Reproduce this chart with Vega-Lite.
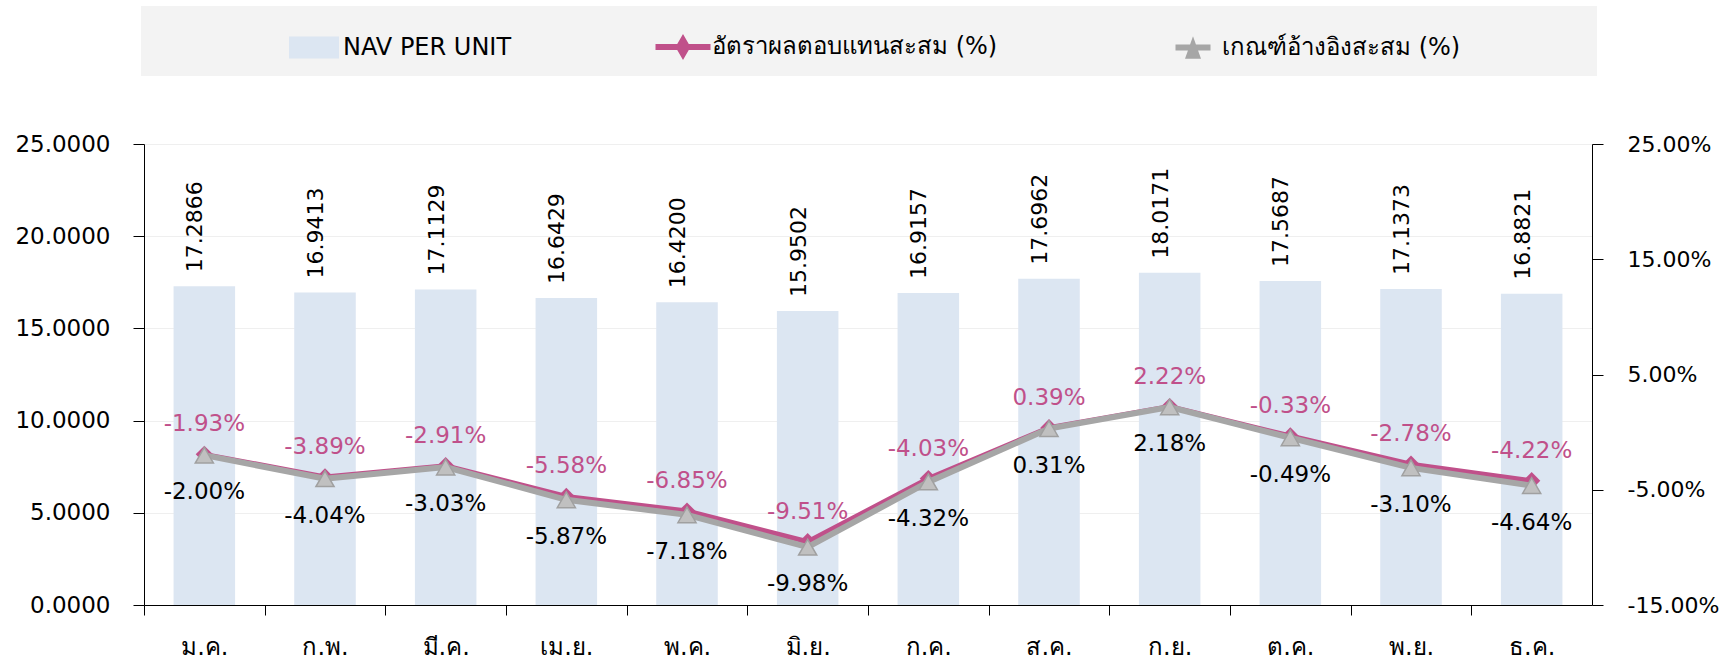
{
  "$schema": "https://vega.github.io/schema/vega-lite/v6.json",
  "width": 1448,
  "height": 461,
  "autosize": {"type": "none"},
  "padding": {"left": 144, "top": 144, "right": 135, "bottom": 57},
  "background": "white",
  "config": {
    "font": "DejaVu Sans",
    "view": {"stroke": null},
    "locale": {"number": {"decimal": ".", "thousands": ",", "grouping": [3], "currency": ["$", ""], "minus": "-"}}
  },
  "data": {
    "values": [
      {"month": "ม.ค.", "nav": 17.2866, "fund": -0.0193, "bench": -0.0200},
      {"month": "ก.พ.", "nav": 16.9413, "fund": -0.0389, "bench": -0.0404},
      {"month": "มี.ค.", "nav": 17.1129, "fund": -0.0291, "bench": -0.0303},
      {"month": "เม.ย.", "nav": 16.6429, "fund": -0.0558, "bench": -0.0587},
      {"month": "พ.ค.", "nav": 16.4200, "fund": -0.0685, "bench": -0.0718},
      {"month": "มิ.ย.", "nav": 15.9502, "fund": -0.0951, "bench": -0.0998},
      {"month": "ก.ค.", "nav": 16.9157, "fund": -0.0403, "bench": -0.0432},
      {"month": "ส.ค.", "nav": 17.6962, "fund": 0.0039, "bench": 0.0031},
      {"month": "ก.ย.", "nav": 18.0171, "fund": 0.0222, "bench": 0.0218},
      {"month": "ต.ค.", "nav": 17.5687, "fund": -0.0033, "bench": -0.0049},
      {"month": "พ.ย.", "nav": 17.1373, "fund": -0.0278, "bench": -0.0310},
      {"month": "ธ.ค.", "nav": 16.8821, "fund": -0.0422, "bench": -0.0464}
    ]
  },
  "encoding": {
    "x": {
      "field": "month",
      "type": "nominal",
      "sort": null,
      "scale": {"paddingInner": 0.49, "paddingOuter": 0.245},
      "axis": {
        "title": null,
        "labelAngle": 0,
        "tickOffset": -60.333,
        "labelOffset": 60.333,
        "tickSize": 10,
        "tickColor": "#000000",
        "domainColor": "#000000",
        "labelFontSize": 24,
        "labelColor": "#000000",
        "labelBaseline": "alphabetic",
        "labelPadding": 39
      }
    }
  },
  "layer": [
    {
      "encoding": {
        "y": {
          "field": "nav",
          "type": "quantitative",
          "scale": {"domain": [0, 25], "nice": false, "zero": false},
          "axis": {
            "orient": "left",
            "title": null,
            "values": [0, 5, 10, 15, 20, 25],
            "format": ".4f",
            "grid": true,
            "gridColor": "#efefef",
            "tickSize": 11,
            "tickColor": "#000000",
            "domainColor": "#000000",
            "labelFontSize": 23,
            "labelColor": "#000000",
            "labelPadding": 23
          }
        }
      },
      "layer": [
        {
          "mark": {"type": "bar", "color": "#dce6f2"},
          "encoding": {
            "color": {
              "datum": "NAV PER UNIT",
              "type": "nominal",
              "scale": {
                "domain": ["NAV PER UNIT", "อัตราผลตอบแทนสะสม (%)", "เกณฑ์อ้างอิงสะสม (%)"],
                "range": ["#dce6f2", "#c0508a", "#a6a6a6"]
              },
              "legend": {
                "orient": "none",
                "legendX": -3,
                "legendY": -138,
                "direction": "horizontal",
                "title": null,
                "fillColor": "#f3f3f3",
                "padding": 16,
                "symbolOffset": 132,
                "columnPadding": 14,
                "labelOffset": 4,
                "symbolSize": 2500,
                "labelFontSize": 24,
                "labelColor": "#000000",
                "labelLimit": 0,
                "encode": {
                  "labels": {
                    "update": {
                      "text": {"signal": "datum.value == 'NAV PER UNIT' ? datum.label : datum.value == 'อัตราผลตอบแทนสะสม (%)' ? datum.label + '\u2003\u200b' : datum.label + '\u2003\u2003\u2003\u2003\u2003\u200b'"}
                    }
                  },
                  "symbols": {
                    "update": {
                      "shape": {"signal": "datum.value == 'NAV PER UNIT' ? 'M-1,-0.44H1V0.44H-1Z' : datum.value == 'อัตราผลตอบแทนสะสม (%)' ? 'M-1.1,-0.12H1.1V0.12H-1.1Z M0,-0.52L0.3,0L0,0.52L-0.3,0Z' : 'M-0.7,-0.12H0.7V0.12H-0.7Z M0,-0.45L0.32,0.45H-0.32Z'"},
                      "fill": {"signal": "datum.value == 'NAV PER UNIT' ? '#dce6f2' : datum.value == 'อัตราผลตอบแทนสะสม (%)' ? '#c0508a' : '#a6a6a6'"},
                      "stroke": {"value": "transparent"},
                      "strokeWidth": {"value": 0},
                      "opacity": {"value": 1}
                    }
                  }
                }
              }
            }
          }
        },
        {
          "mark": {"type": "text", "angle": 270, "align": "left", "baseline": "alphabetic", "dx": 14, "dy": -2, "fontSize": 22, "color": "#000000"},
          "encoding": {"text": {"field": "nav", "type": "quantitative", "format": ".4f"}}
        }
      ]
    },
    {
      "layer": [
        {
          "mark": {"type": "line", "strokeWidth": 5},
          "encoding": {
            "y": {"field": "fund", "type": "quantitative", "scale": {"domain": [-0.15, 0.25], "nice": false, "zero": false},
              "axis": {"orient": "right", "title": null, "values": [-0.15, -0.05, 0.05, 0.15, 0.25], "format": ".2%", "grid": false, "tickSize": 11, "tickColor": "#000000", "domainColor": "#000000", "labelFontSize": 22, "labelColor": "#000000", "labelPadding": 24}},
            "color": {"datum": "อัตราผลตอบแทนสะสม (%)", "type": "nominal"}
          }
        },
        {
          "mark": {"type": "point", "shape": "diamond", "filled": true, "size": 300, "color": "#c0508a", "opacity": 1},
          "encoding": {
            "y": {"field": "fund", "type": "quantitative", "scale": {"domain": [-0.15, 0.25], "nice": false, "zero": false},
              "axis": {"orient": "right", "title": null, "values": [-0.15, -0.05, 0.05, 0.15, 0.25], "format": ".2%", "grid": false, "tickSize": 11, "tickColor": "#000000", "domainColor": "#000000", "labelFontSize": 22, "labelColor": "#000000", "labelPadding": 24}}
          }
        },
        {
          "mark": {"type": "line", "strokeWidth": 6},
          "encoding": {
            "y": {"field": "bench", "type": "quantitative", "scale": {"domain": [-0.15, 0.25], "nice": false, "zero": false},
              "axis": {"orient": "right", "title": null, "values": [-0.15, -0.05, 0.05, 0.15, 0.25], "format": ".2%", "grid": false, "tickSize": 11, "tickColor": "#000000", "domainColor": "#000000", "labelFontSize": 22, "labelColor": "#000000", "labelPadding": 24}},
            "color": {"datum": "เกณฑ์อ้างอิงสะสม (%)", "type": "nominal"}
          }
        },
        {
          "mark": {"type": "point", "shape": "triangle-up", "filled": true, "size": 330, "fill": "#c0c0c0", "stroke": "#a0a0a0", "strokeWidth": 1.5, "opacity": 1},
          "encoding": {
            "y": {"field": "bench", "type": "quantitative", "scale": {"domain": [-0.15, 0.25], "nice": false, "zero": false},
              "axis": {"orient": "right", "title": null, "values": [-0.15, -0.05, 0.05, 0.15, 0.25], "format": ".2%", "grid": false, "tickSize": 11, "tickColor": "#000000", "domainColor": "#000000", "labelFontSize": 22, "labelColor": "#000000", "labelPadding": 24}}
          }
        },
        {
          "mark": {"type": "text", "fontSize": 23, "color": "#c0508a", "baseline": "alphabetic", "dy": -23},
          "encoding": {
            "y": {"field": "fund", "type": "quantitative", "scale": {"domain": [-0.15, 0.25], "nice": false, "zero": false},
              "axis": {"orient": "right", "title": null, "values": [-0.15, -0.05, 0.05, 0.15, 0.25], "format": ".2%", "grid": false, "tickSize": 11, "tickColor": "#000000", "domainColor": "#000000", "labelFontSize": 22, "labelColor": "#000000", "labelPadding": 24}},
            "text": {"field": "fund", "type": "quantitative", "format": ".2%"}
          }
        },
        {
          "mark": {"type": "text", "fontSize": 23, "color": "#000000", "baseline": "alphabetic", "dy": 44},
          "encoding": {
            "y": {"field": "bench", "type": "quantitative", "scale": {"domain": [-0.15, 0.25], "nice": false, "zero": false},
              "axis": {"orient": "right", "title": null, "values": [-0.15, -0.05, 0.05, 0.15, 0.25], "format": ".2%", "grid": false, "tickSize": 11, "tickColor": "#000000", "domainColor": "#000000", "labelFontSize": 22, "labelColor": "#000000", "labelPadding": 24}},
            "text": {"field": "bench", "type": "quantitative", "format": ".2%"}
          }
        }
      ]
    }
  ],
  "resolve": {"scale": {"y": "independent"}}
}
